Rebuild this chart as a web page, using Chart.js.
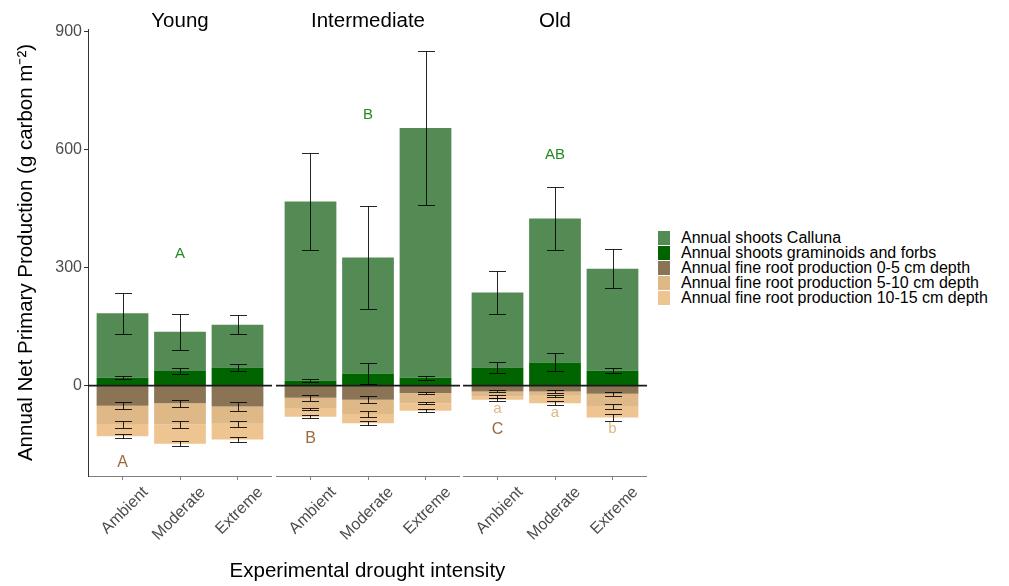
<!DOCTYPE html>
<html>
<head>
<meta charset="utf-8">
<script src="https://cdn.jsdelivr.net/npm/chart.js@4.4.1/dist/chart.umd.min.js"></script>
<style>
  body { margin: 0; background: #fff; font-family: 'Liberation Sans', Arial, sans-serif; }
  #wrap { position: relative; width: 1009px; height: 586px; overflow: hidden; }
  canvas { position: absolute; top: 0; }
  #legend { position: absolute; left: 658px; top: 230px; }
  .row { height: 15.2px; display: flex; align-items: center; font-size: 16px; white-space: nowrap; color: #000; }
  .key { width: 12px; height: 14px; margin-right: 11px; }
  #xtitle { position: absolute; left: 88px; width: 559px; top: 558px; line-height: 24px; font-size: 20.5px; text-align: center; color: #000; white-space: nowrap; }
</style>
</head>
<body>
<div id="wrap">
  <canvas id="c0" width="272" height="586" style="left:0"></canvas>
  <canvas id="c1" width="184" height="586" style="left:276px"></canvas>
  <canvas id="c2" width="184" height="586" style="left:463px"></canvas>
  <div id="xtitle">Experimental drought intensity</div>
  <div id="legend"></div>
</div>
<script>
const ages = ['Young', 'Intermediate', 'Old'];
const treatments = ['Ambient', 'Moderate', 'Extreme'];
const yTicks = [0, 300, 600, 900];

// order of every array: Young A, M, E | Intermediate A, M, E | Old A, M, E
const calluna      = [164, 100, 109, 455, 295, 635, 191, 366, 259];
const callunaSE    = [52, 46, 24, 124, 131, 196, 55, 80, 50];
const graminoids   = [20, 37, 46, 13, 31, 20, 46, 59, 38];
const graminoidsSE = [4.5, 8, 8.5, 4.5, 27.5, 5.5, 14.5, 23, 5.5];
const root0to5     = [-51, -45, -53, -31, -36, -19, -15, -15, -21];
const root0to5SE   = [9, 9, 11, 7, 9, 3, 2.5, 4.5, 5.5];
const root5to10    = [-47, -54, -44, -28, -36, -26, -13, -11, -33];
const root5to10SE  = [9, 8, 8, 3, 7, 3, 3.5, 3, 6];
const root10to15   = [-31, -49, -40, -20, -24, -19, -8, -19, -27];
const root10to15SE = [5, 6.5, 6, 4.5, 5.5, 3.5, 3.5, 5.5, 8];

// significance letters and the value where each one sits
const shootLetters = ['', 'A', '', '', 'B', '', '', 'AB', ''];
const shootLetterY = [null, 335, null, null, 688, null, null, 586, null];
const rootLetters  = ['A', '', '', 'B', '', '', 'C', '', ''];
const rootLetterY  = [-197, null, null, -135, null, null, -112, null, null];
const depthLetters = ['', '', '', '', '', '', 'a', 'a', 'b'];
const depthLetterY = [null, null, null, null, null, null, -59, -69, -110];

const FONT = "'Liberation Sans', Arial, sans-serif";

// stacking order (bottom up / zero outwards)
const series = [
  { name: 'Annual shoots graminoids and forbs', values: graminoids, se: graminoidsSE, color: '#006400' },
  { name: 'Annual shoots Calluna', values: calluna, se: callunaSE, color: '#548B54' },
  { name: 'Annual fine root production 0-5 cm depth', values: root0to5, se: root0to5SE, color: '#8B7355' },
  { name: 'Annual fine root production 5-10 cm depth', values: root5to10, se: root5to10SE, color: '#DEB887' },
  { name: 'Annual fine root production 10-15 cm depth', values: root10to15, se: root10to15SE, color: '#EEC591' }
];
const legendOrder = [1, 0, 2, 3, 4];

const facetPlugin = {
  id: 'facet',
  afterDatasetsDraw(chart, args, opts) {
    const { ctx, chartArea: a, scales: { x, y } } = chart;
    const k = opts.k;
    ctx.save();
    // zero line
    const y0 = y.getPixelForValue(0);
    ctx.strokeStyle = '#1a1a1a';
    ctx.lineWidth = 1.8;
    ctx.beginPath();
    ctx.moveTo(a.left, y0);
    ctx.lineTo(a.right, y0);
    ctx.stroke();

    // error bars at the end of every stacked segment
    ctx.strokeStyle = 'rgba(0,0,0,0.85)';
    ctx.lineWidth = 1;
    chart.data.datasets.forEach((ds, d) => {
      chart.getDatasetMeta(d).data.forEach((bar, i) => {
        const end = y.getValueForPixel(bar.y);
        const hi = Math.round(y.getPixelForValue(end + ds.se[i])) + 0.5;
        const lo = Math.round(y.getPixelForValue(end - ds.se[i])) + 0.5;
        const cx = Math.round(bar.x) + 0.5;
        const w = 8.5;
        ctx.beginPath();
        ctx.moveTo(cx, hi); ctx.lineTo(cx, lo);
        ctx.moveTo(cx - w, hi); ctx.lineTo(cx + w, hi);
        ctx.moveTo(cx - w, lo); ctx.lineTo(cx + w, lo);
        ctx.stroke();
      });
    });

    // letters
    const sets = [
      [shootLetters, shootLetterY, '#228B22', 15],
      [rootLetters, rootLetterY, '#9A6A3C', 16],
      [depthLetters, depthLetterY, '#DEB887', 15]
    ];
    ctx.textAlign = 'center';
    ctx.textBaseline = 'middle';
    sets.forEach(([txt, pos, col, size]) => {
      ctx.fillStyle = col;
      ctx.font = size + 'px ' + FONT;
      for (let i = 0; i < 3; i++) {
        const g = 3 * k + i;
        if (!txt[g]) continue;
        ctx.fillText(txt[g], x.getPixelForValue(i), y.getPixelForValue(pos[g]));
      }
    });
    ctx.restore();
  },
  afterDraw(chart, args, opts) {
    const { ctx, chartArea: a } = chart;
    ctx.save();
    ctx.fillStyle = '#000';
    ctx.font = '20.5px ' + FONT;
    ctx.textAlign = 'center';
    ctx.textBaseline = 'alphabetic';
    ctx.fillText(ages[opts.k], (a.left + a.right) / 2, 27);
    ctx.restore();
  }
};

function makeChart(id, k) {
  const idx = [3 * k, 3 * k + 1, 3 * k + 2];
  const first = k === 0;
  return new Chart(id, {
    type: 'bar',
    data: {
      datasets: series.map(s => ({
        label: s.name,
        data: idx.map((g, i) => ({ x: i, y: s.values[g] })),
        se: idx.map(g => s.se[g]),
        backgroundColor: s.color,
        borderWidth: 0,
        barPercentage: 0.9,
        categoryPercentage: 1
      }))
    },
    options: {
      responsive: false,
      animation: false,
      layout: { padding: { left: first ? 10 : 0, right: 0, top: 29, bottom: 0 } },
      plugins: {
        legend: { display: false },
        tooltip: { enabled: false },
        facet: { k: k }
      },
      scales: {
        x: {
          type: 'linear',
          offset: false,
          stacked: true,
          min: -0.6,
          max: 2.6,
          afterBuildTicks: s => { s.ticks = treatments.map((t, i) => ({ value: i })); },
          afterFit: s => { s.height = 110; s.paddingLeft = 0; s.paddingRight = 0; },
          ticks: {
            callback: v => treatments[v],
            minRotation: 45,
            maxRotation: 45,
            autoSkip: false,
            labelOffset: 23,
            padding: 3,
            color: '#4d4d4d',
            font: { family: FONT, size: 16 }
          },
          grid: { drawOnChartArea: false, offset: false, tickLength: 4, color: '#7f7f7f' },
          border: { color: '#7f7f7f', width: 1 }
        },
        y: {
          stacked: true,
          display: first,
          min: -230,
          max: 907,
          afterBuildTicks: s => { s.ticks = yTicks.map(v => ({ value: v })); },
          afterFit: s => { if (first) s.width = 78; s.paddingTop = 0; s.paddingBottom = 0; },
          ticks: { color: '#4d4d4d', padding: 2, font: { family: FONT, size: 16 } },
          grid: { drawOnChartArea: false, tickLength: 4, color: '#333' },
          border: { color: '#333', width: 1 },
          title: {
            display: true,
            text: 'Annual Net Primary Production (g carbon m\u207B\u00B2)',
            color: '#000',
            font: { family: FONT, size: 20.5 },
            padding: { top: 4, bottom: 0 }
          }
        }
      }
    },
    plugins: [facetPlugin]
  });
}

ages.forEach((a, k) => makeChart('c' + k, k));

const legend = document.getElementById('legend');
legendOrder.forEach(j => {
  const row = document.createElement('div');
  row.className = 'row';
  const key = document.createElement('span');
  key.className = 'key';
  key.style.background = series[j].color;
  row.appendChild(key);
  row.appendChild(document.createTextNode(series[j].name));
  legend.appendChild(row);
});
</script>
</body>
</html>
